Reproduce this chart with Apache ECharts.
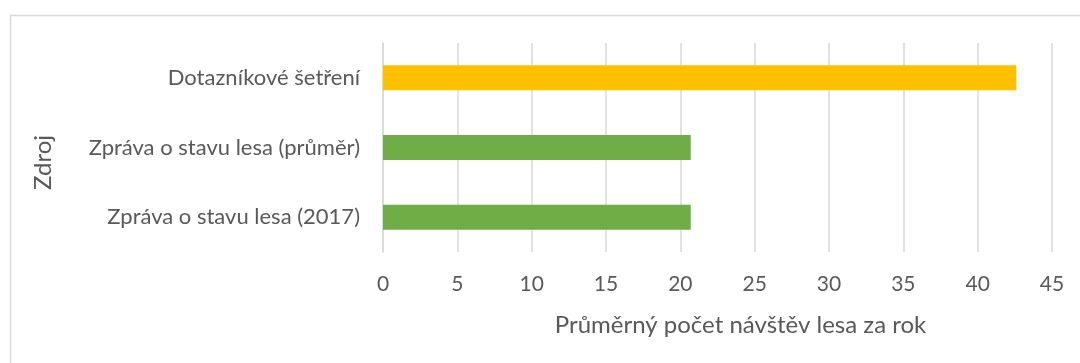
<!DOCTYPE html>
<html>
<head>
<meta charset="utf-8">
<script src="https://cdn.jsdelivr.net/npm/echarts@6/dist/echarts.min.js"></script>
<style>
  html, body { margin: 0; padding: 0; background: #ffffff; }
  #chart { width: 1080px; height: 363px; }
</style>
</head>
<body>
<div id="chart"></div>
<script>
// Sources, listed bottom to top as the category axis draws them
const categories = ['Zpráva o stavu lesa (2017)', 'Zpráva o stavu lesa (průměr)', 'Dotazníkové šetření'];
const visits = [20.7, 20.7, 42.6];
const barColors = ['#70AD47', '#70AD47', '#FFC000'];
const xTicks = { min: 0, max: 45, interval: 5 };
const xTitle = 'Průměrný počet návštěv lesa za rok';
const yTitle = 'Zdroj';

const FONT = 'Lato, "Open Sans", sans-serif';
const TEXT = '#595959';
const GRID = '#d9d9d9';

const chart = echarts.init(document.getElementById('chart'), null, { renderer: 'canvas' });
chart.setOption({
  animation: false,
  backgroundColor: '#ffffff',
  graphic: [{
    type: 'rect',
    left: 8, top: 13,
    shape: { width: 1090, height: 400 },
    style: { fill: 'none', stroke: GRID, lineWidth: 1.5 },
    silent: true
  }],
  grid: { left: 383, right: 28, top: 43, bottom: 111 },
  xAxis: {
    type: 'value',
    min: xTicks.min, max: xTicks.max, interval: xTicks.interval,
    name: xTitle,
    nameLocation: 'middle',
    nameGap: 61,
    nameTextStyle: { fontFamily: FONT, fontSize: 24, color: TEXT, padding: [0, 0, 0, 46] },
    axisLine: { show: false },
    axisTick: { show: false },
    axisLabel: { fontFamily: FONT, fontSize: 21, color: TEXT, margin: 22 },
    splitLine: { show: true, lineStyle: { color: GRID, width: 1.5 } }
  },
  yAxis: {
    type: 'category',
    data: categories,
    name: yTitle,
    nameLocation: 'middle',
    nameRotate: 90,
    nameGap: 328,
    nameTextStyle: { fontFamily: FONT, fontSize: 24, color: TEXT, padding: [0, 30, 0, 0] },
    axisLine: { show: true, lineStyle: { color: GRID, width: 1.5 } },
    axisTick: { show: false },
    axisLabel: { fontFamily: FONT, fontSize: 22, color: TEXT, margin: 23 }
  },
  series: [{
    type: 'bar',
    barWidth: 25,
    data: visits.map((v, i) => ({ value: v, itemStyle: { color: barColors[i] } }))
  }]
});
</script>
</body>
</html>
